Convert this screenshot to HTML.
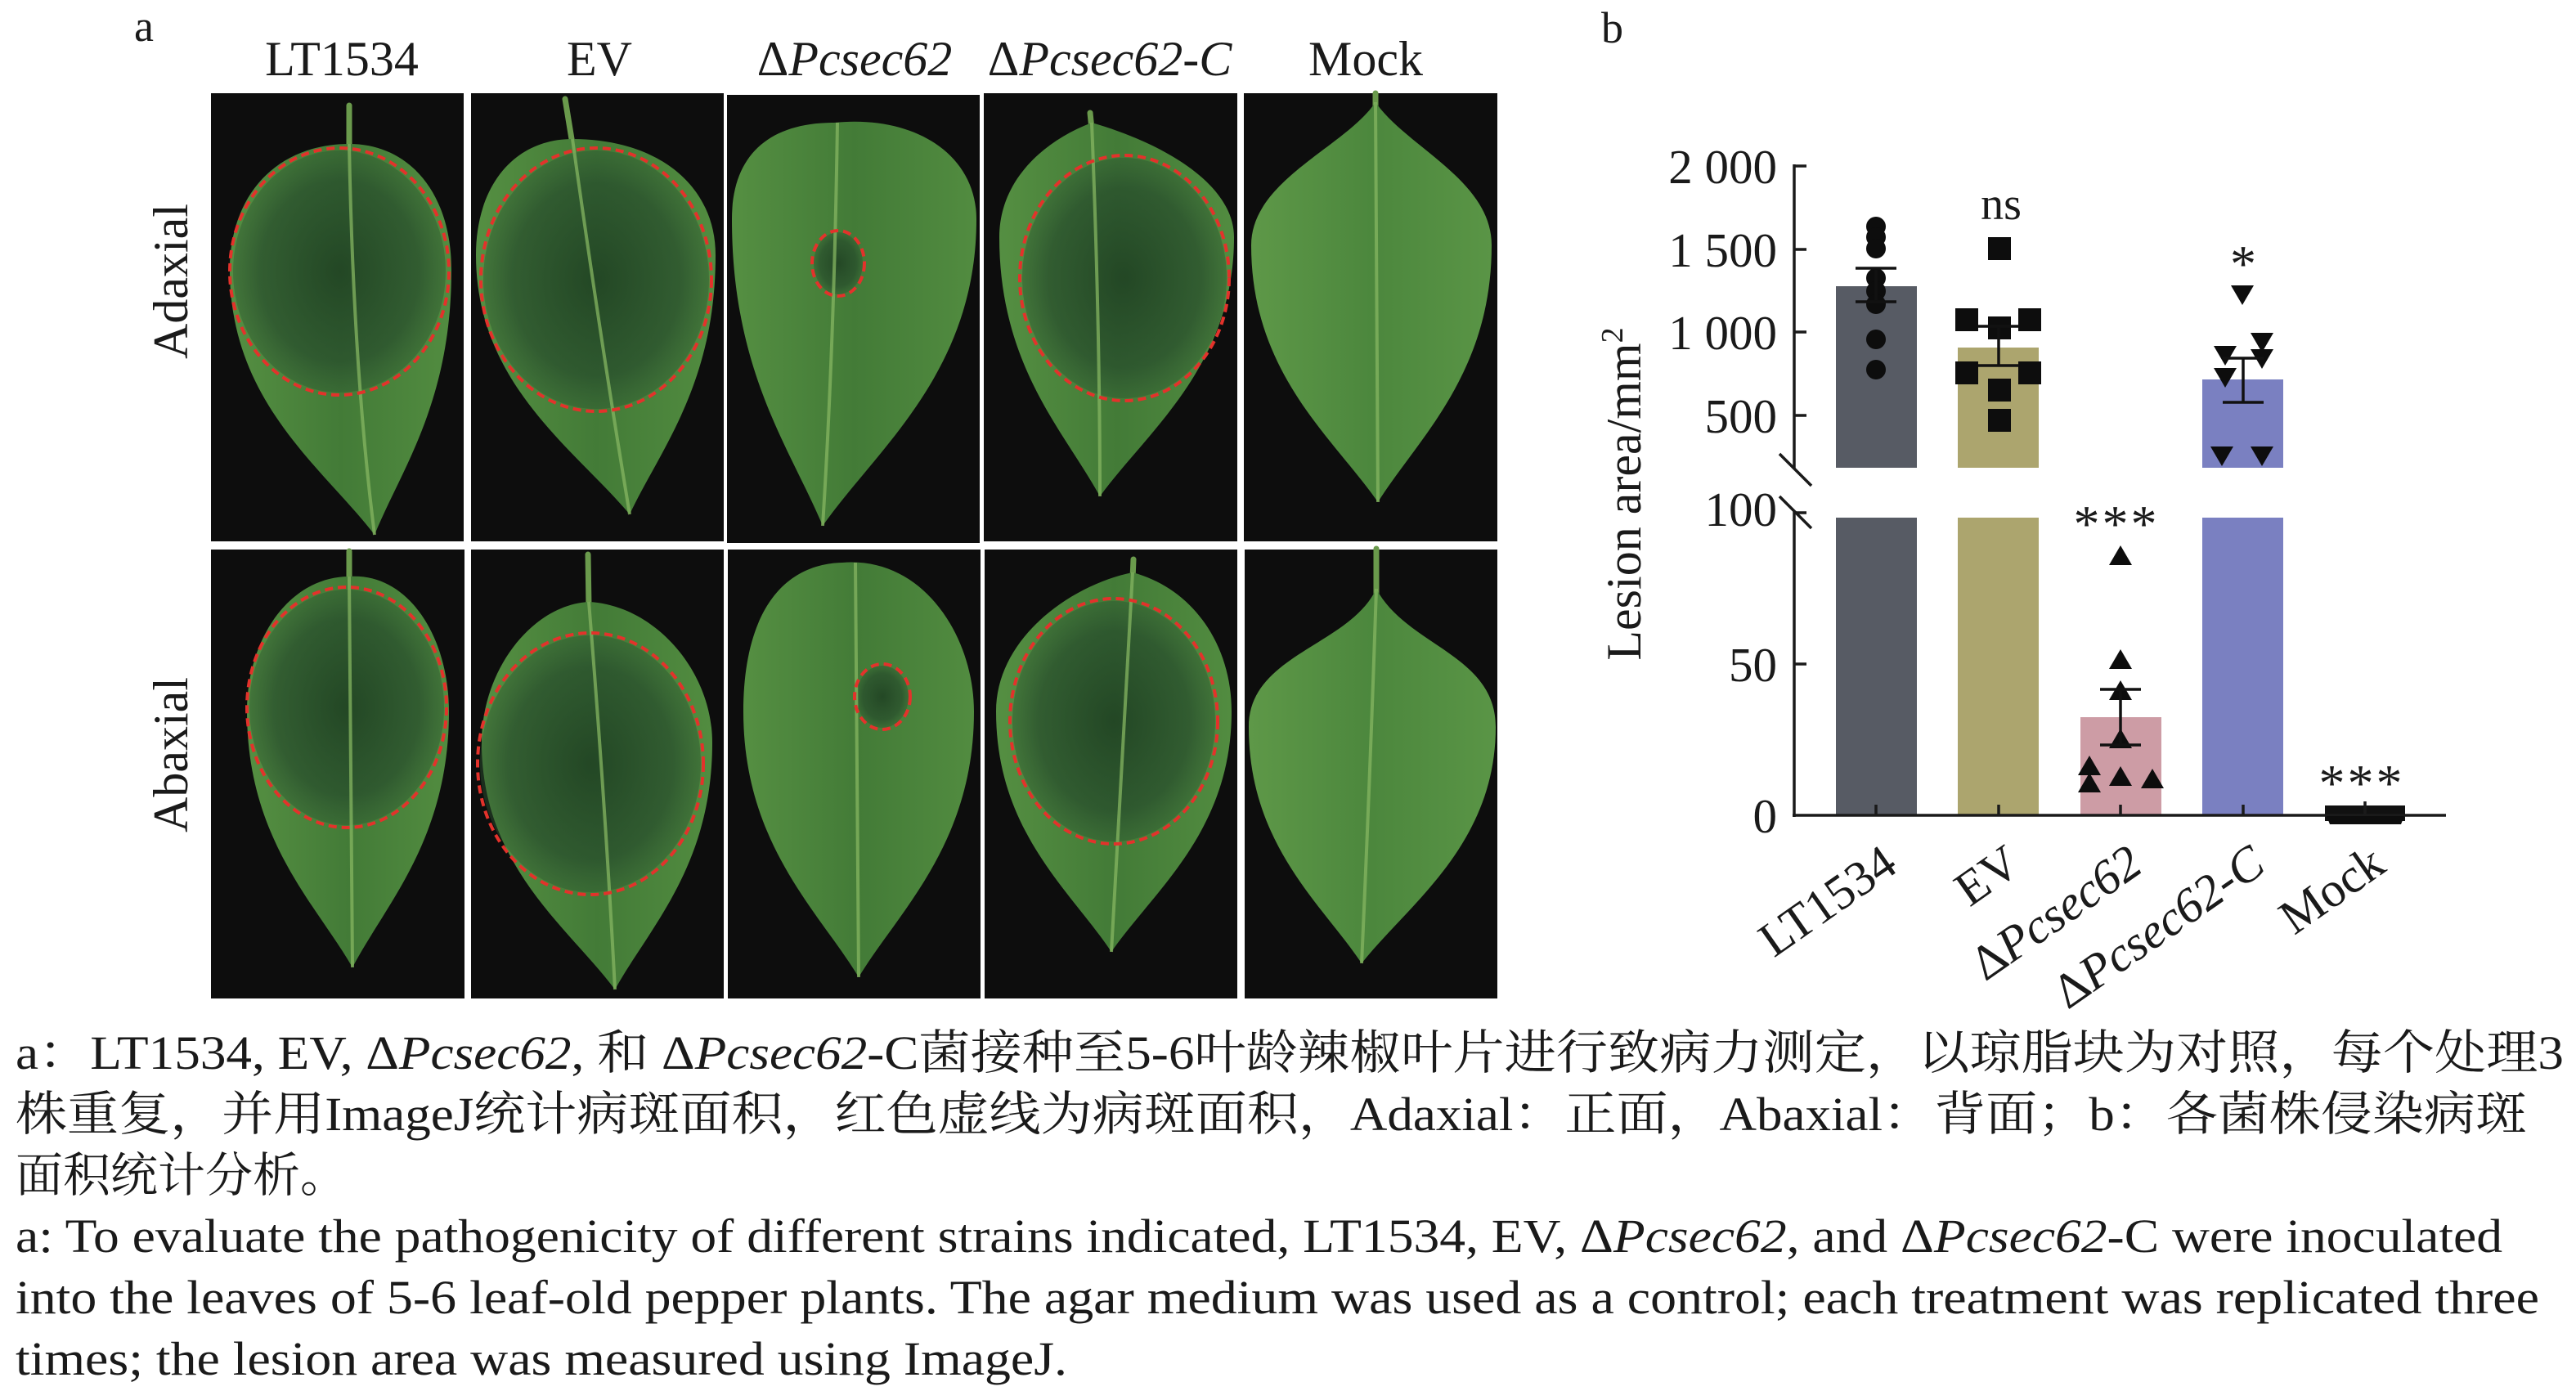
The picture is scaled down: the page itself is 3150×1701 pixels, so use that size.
<!DOCTYPE html>
<html><head><meta charset="utf-8"><style>
html,body{margin:0;padding:0;background:#fff;}
svg{display:block;}
.s{font-family:"Liberation Serif","Noto Serif CJK SC",serif;}
</style></head><body>
<svg width="3150" height="1701" viewBox="0 0 3150 1701" xmlns="http://www.w3.org/2000/svg">
<defs>
<linearGradient id="lf" x1="0" y1="0" x2="1" y2="0">
<stop offset="0" stop-color="#558f42"/><stop offset="0.5" stop-color="#437b37"/><stop offset="1" stop-color="#528c40"/>
</linearGradient>
<linearGradient id="lf2" x1="0" y1="0" x2="1" y2="0">
<stop offset="0" stop-color="#5e9848"/><stop offset="0.5" stop-color="#4c873d"/><stop offset="1" stop-color="#5a9546"/>
</linearGradient>
<radialGradient id="les">
<stop offset="0" stop-color="#1b3a20" stop-opacity="0.8"/><stop offset="0.75" stop-color="#23462a" stop-opacity="0.65"/><stop offset="1" stop-color="#2c5530" stop-opacity="0.45"/>
</radialGradient>
</defs>
<rect width="3150" height="1701" fill="#fff"/>

<!-- panel a labels -->
<g class="s" fill="#1a1a1a">
<text x="164" y="50" font-size="54">a</text>
<text x="418" y="92" font-size="60" text-anchor="middle">LT1534</text>
<text x="733" y="92" font-size="60" text-anchor="middle">EV</text>
<text x="1045" y="92" font-size="60" text-anchor="middle">Δ<tspan font-style="italic">Pcsec62</tspan></text>
<text x="1357" y="92" font-size="60" text-anchor="middle">Δ<tspan font-style="italic">Pcsec62-C</tspan></text>
<text x="1670" y="92" font-size="60" text-anchor="middle">Mock</text>
<text transform="translate(229,344) rotate(-90)" font-size="60" text-anchor="middle">Adaxial</text>
<text transform="translate(229,923) rotate(-90)" font-size="60" text-anchor="middle">Abaxial</text>
</g>

<!-- panels -->
<g fill="#0d0d0d">
<rect x="258" y="114" width="309" height="548"/>
<rect x="576" y="114" width="309" height="548"/>
<rect x="889" y="116" width="309" height="548"/>
<rect x="1203" y="114" width="310" height="548"/>
<rect x="1521" y="114" width="310" height="548"/>
<rect x="258" y="672" width="310" height="549"/>
<rect x="576" y="672" width="309" height="549"/>
<rect x="890" y="672" width="309" height="549"/>
<rect x="1204" y="672" width="309" height="549"/>
<rect x="1522" y="672" width="309" height="549"/>
</g>

<!-- leaves -->
<g stroke="#6a9a4c" stroke-width="7" stroke-linecap="round" fill="none">
<line x1="427" y1="129" x2="427" y2="182"/>
<line x1="691" y1="121" x2="700" y2="176"/>
<line x1="1333" y1="138" x2="1335" y2="158"/>
<line x1="1682" y1="114" x2="1682" y2="135"/>
<line x1="427" y1="674" x2="427" y2="712"/>
<line x1="719" y1="678" x2="720" y2="742"/>
<line x1="1386" y1="684" x2="1385" y2="708"/>
<line x1="1683" y1="671" x2="1683" y2="728"/>
</g>
<g fill="url(#lf)">
<path d="M427,176 C502,176 552,238 552,330 C552,492 491,573 458,654 C396,573 281,492 281,330 C281,238 339,176 427,176 Z"/>
<path d="M700,170 C805,170 875,227 875,312 C875,470 807,550 770,629 C704,550 582,470 582,312 C582,227 629,170 700,170 Z"/>
<path d="M1020,150 C1120,140 1194,190 1194,268 C1194,455 1072,549 1006,643 C967,549 895,455 895,268 C895,190 940,150 1020,150 Z"/>
<path d="M1335,150 C1422,175 1509,225 1509,290 C1509,448 1402,528 1345,607 C1302,528 1222,448 1222,290 C1222,225 1270,175 1335,150 Z"/>
<path d="M427,705 C500,700 549,780 549,870 C549,1026 472,1105 431,1183 C386,1105 302,1026 302,870 C302,780 355,705 427,705 Z"/>
<path d="M720,736 C800,740 871,820 871,908 C871,1059 794,1134 752,1210 C695,1134 589,1059 589,908 C589,820 650,740 720,736 Z"/>
<path d="M1030,688 C1130,680 1191,780 1191,870 C1191,1032 1099,1114 1050,1195 C1001,1114 909,1032 909,870 C909,760 950,690 1030,688 Z"/>
<path d="M1385,700 C1460,720 1506,790 1506,870 C1506,1017 1410,1090 1359,1164 C1310,1090 1218,1017 1218,870 C1218,780 1310,715 1385,700 Z"/>
</g>
<g fill="url(#lf2)">
<path d="M1682,125 C1720,180 1824,220 1824,300 C1824,457 1734,536 1685,614 C1631,536 1530,457 1530,300 C1530,220 1645,180 1682,125 Z"/>
<path d="M1683,720 C1720,790 1829,800 1829,889 C1829,1033 1722,1106 1665,1178 C1617,1106 1527,1033 1527,889 C1527,800 1650,790 1683,720 Z"/>
</g>
<!-- lesion shading -->
<g fill="url(#les)">
<ellipse cx="415" cy="332" rx="130" ry="148"/>
<ellipse cx="729" cy="342" rx="138" ry="158"/>
<ellipse cx="1025" cy="322" rx="30" ry="38"/>
<ellipse cx="1375" cy="340" rx="125" ry="147"/>
<ellipse cx="424" cy="865" rx="119" ry="144"/>
<ellipse cx="722" cy="934" rx="135" ry="157"/>
<ellipse cx="1079" cy="852" rx="32" ry="38"/>
<ellipse cx="1362" cy="882" rx="124" ry="147"/>
</g>
<!-- midribs -->
<g stroke="#86b562" stroke-width="4" fill="none" opacity="0.75">
<path d="M427,176 Q432,450 458,654"/>
<path d="M700,170 Q735,420 770,629"/>
<path d="M1024,150 Q1020,420 1006,643"/>
<path d="M1335,150 Q1345,400 1345,607"/>
<path d="M1682,125 Q1684,400 1685,614"/>
<path d="M427,705 Q430,950 431,1183"/>
<path d="M720,736 Q740,980 752,1210"/>
<path d="M1046,688 Q1048,950 1050,1195"/>
<path d="M1385,700 Q1370,950 1359,1164"/>
<path d="M1683,720 Q1675,960 1665,1178"/>
</g>
<!-- red dashed ellipses -->
<g fill="none" stroke="#e3322b" stroke-width="4" stroke-dasharray="10 6">
<ellipse cx="415" cy="332" rx="134" ry="151"/>
<ellipse cx="729" cy="342" rx="141" ry="161"/>
<ellipse cx="1025" cy="322" rx="32" ry="40"/>
<ellipse cx="1375" cy="340" rx="128" ry="150"/>
<ellipse cx="424" cy="865" rx="122" ry="147"/>
<ellipse cx="722" cy="934" rx="138" ry="160"/>
<ellipse cx="1079" cy="852" rx="34" ry="40"/>
<ellipse cx="1362" cy="882" rx="127" ry="150"/>
</g>

<!-- panel b -->
<g class="s" fill="#1a1a1a">
<text x="1958" y="52" font-size="54">b</text>
<text transform="translate(2006,604) rotate(-90)" font-size="60" text-anchor="middle">Lesion area/mm<tspan font-size="38" dy="-22">2</tspan></text>
<g font-size="59" text-anchor="end">
<text x="2173" y="224">2 000</text>
<text x="2173" y="326">1 500</text>
<text x="2173" y="427">1 000</text>
<text x="2173" y="529">500</text>
<text x="2173" y="643">100</text>
<text x="2173" y="833">50</text>
<text x="2173" y="1018">0</text>
</g>
</g>

<!-- bars -->
<rect x="2245" y="350" width="99" height="222" fill="#575b64"/>
<rect x="2394" y="425" width="99" height="147" fill="#aca56e"/>
<rect x="2693" y="464" width="99" height="108" fill="#7a80c1"/>
<rect x="2245" y="633" width="99" height="364" fill="#575b64"/>
<rect x="2394" y="633" width="99" height="364" fill="#aca56e"/>
<rect x="2544" y="877" width="99" height="120" fill="#cd9ca5"/>
<rect x="2693" y="633" width="99" height="364" fill="#7a80c1"/>
<rect x="2843" y="985" width="98" height="19" fill="#111"/>

<!-- axes -->
<g stroke="#1a1a1a" stroke-width="3.5" fill="none">
<line x1="2194" y1="201" x2="2194" y2="573"/>
<line x1="2194" y1="625" x2="2194" y2="999"/>
<line x1="2192" y1="997" x2="2991" y2="997"/>
<line x1="2176" y1="555" x2="2215" y2="594"/>
<line x1="2176" y1="607" x2="2215" y2="646"/>
<line x1="2194" y1="203" x2="2209" y2="203"/>
<line x1="2194" y1="305" x2="2209" y2="305"/>
<line x1="2194" y1="406" x2="2209" y2="406"/>
<line x1="2194" y1="508" x2="2209" y2="508"/>
<line x1="2194" y1="627" x2="2209" y2="627"/>
<line x1="2194" y1="812" x2="2209" y2="812"/>
<line x1="2294" y1="997" x2="2294" y2="984"/>
<line x1="2444" y1="997" x2="2444" y2="984"/>
<line x1="2593" y1="997" x2="2593" y2="984"/>
<line x1="2743" y1="997" x2="2743" y2="984"/>
<line x1="2892" y1="997" x2="2892" y2="980"/>
</g>

<!-- data points -->
<g fill="#0d0d0d">
<circle cx="2294" cy="277" r="12"/><circle cx="2294" cy="290" r="12"/><circle cx="2294" cy="304" r="12"/>
<circle cx="2294" cy="340" r="12"/><circle cx="2294" cy="356" r="12"/><circle cx="2294" cy="372" r="12"/>
<circle cx="2294" cy="415" r="12"/><circle cx="2294" cy="452" r="12"/>
<rect x="2431" y="290" width="28" height="28"/>
<rect x="2391" y="377" width="28" height="28"/>
<rect x="2431" y="387" width="28" height="28"/>
<rect x="2468" y="377" width="28" height="28"/>
<rect x="2391" y="442" width="28" height="28"/>
<rect x="2468" y="442" width="28" height="28"/>
<rect x="2431" y="463" width="28" height="28"/>
<rect x="2431" y="500" width="28" height="28"/>
<polygon points="2728,349 2756,349 2742,373"/>
<polygon points="2707,423 2735,423 2721,447"/>
<polygon points="2752,407 2780,407 2766,431"/>
<polygon points="2707,450 2735,450 2721,474"/>
<polygon points="2752,427 2780,427 2766,451"/>
<polygon points="2703,546 2731,546 2717,570"/>
<polygon points="2752,546 2780,546 2766,570"/>
<polygon points="2579,691 2607,691 2593,667"/>
<polygon points="2579,818 2607,818 2593,794"/>
<polygon points="2579,856 2607,856 2593,832"/>
<polygon points="2579,915 2607,915 2593,891"/>
<polygon points="2541,948 2569,948 2555,924"/>
<polygon points="2541,969 2569,969 2555,945"/>
<polygon points="2579,961 2607,961 2593,937"/>
<polygon points="2618,964 2646,964 2632,940"/>
<polygon points="2845,998 2940,998 2936,1008 2849,1008"/>
</g>

<!-- error bars -->
<g stroke="#111" stroke-width="3.5" fill="none">
<line x1="2294" y1="328" x2="2294" y2="369"/><line x1="2269" y1="328" x2="2319" y2="328"/><line x1="2269" y1="369" x2="2319" y2="369"/>
<line x1="2444" y1="399" x2="2444" y2="447"/><line x1="2419" y1="399" x2="2469" y2="399"/><line x1="2419" y1="447" x2="2469" y2="447"/>
<line x1="2593" y1="843" x2="2593" y2="911"/><line x1="2568" y1="843" x2="2618" y2="843"/><line x1="2568" y1="911" x2="2618" y2="911"/>
<line x1="2743" y1="438" x2="2743" y2="492"/><line x1="2718" y1="438" x2="2768" y2="438"/><line x1="2718" y1="492" x2="2768" y2="492"/>
</g>

<!-- significance -->
<g class="s" fill="#1a1a1a" text-anchor="middle">
<text x="2447" y="268" font-size="56">ns</text>
<text x="2743" y="344" font-size="64">*</text>
<text x="2588" y="662" font-size="64" letter-spacing="3">***</text>
<text x="2888" y="979" font-size="64" letter-spacing="3">***</text>
</g>

<!-- x labels -->
<g class="s" fill="#1a1a1a" font-size="60" text-anchor="end">
<text transform="translate(2323,1064) rotate(-35)">LT1534</text>
<text transform="translate(2474,1064) rotate(-35)">EV</text>
<text transform="translate(2623,1064) rotate(-35)">Δ<tspan font-style="italic">Pcsec62</tspan></text>
<text transform="translate(2773,1064) rotate(-35)">Δ<tspan font-style="italic">Pcsec62-C</tspan></text>
<text transform="translate(2920,1064) rotate(-35)">Mock</text>
</g>

<!-- caption -->
<g class="s" fill="#1a1a1a" font-size="58">
<text x="19" y="1307" textLength="3116" lengthAdjust="spacingAndGlyphs">a：LT1534, EV, Δ<tspan font-style="italic">Pcsec62</tspan>, 和 Δ<tspan font-style="italic">Pcsec62</tspan>-C菌接种至5-6叶龄辣椒叶片进行致病力测定，以琼脂块为对照，每个处理3</text>
<text x="19" y="1382" textLength="3071" lengthAdjust="spacingAndGlyphs">株重复，并用ImageJ统计病斑面积，红色虚线为病斑面积，Adaxial：正面，Abaxial：背面；b：各菌株侵染病斑</text>
<text x="19" y="1457" textLength="406" lengthAdjust="spacingAndGlyphs">面积统计分析。</text>
<text x="19" y="1531" textLength="3041" lengthAdjust="spacingAndGlyphs">a: To evaluate the pathogenicity of different strains indicated, LT1534, EV, Δ<tspan font-style="italic">Pcsec62</tspan>, and Δ<tspan font-style="italic">Pcsec62</tspan>-C were inoculated</text>
<text x="19" y="1606" textLength="3086" lengthAdjust="spacingAndGlyphs">into the leaves of 5-6 leaf-old pepper plants. The agar medium was used as a control; each treatment was replicated three</text>
<text x="19" y="1681" textLength="1286" lengthAdjust="spacingAndGlyphs">times; the lesion area was measured using ImageJ.</text>
</g>
</svg>
</body></html>
